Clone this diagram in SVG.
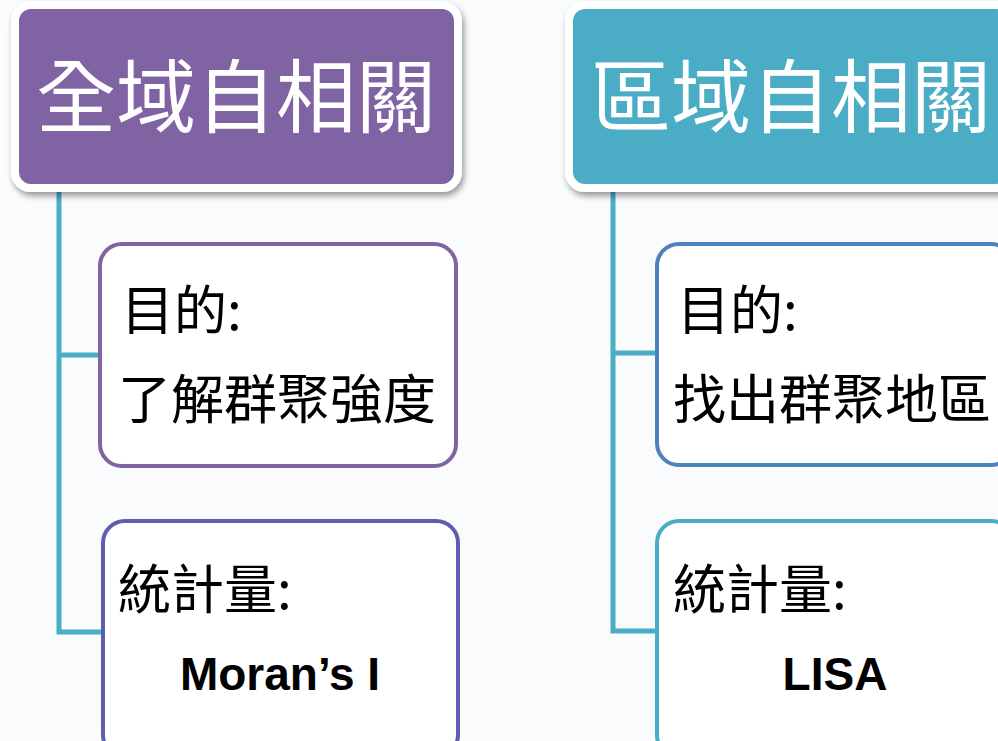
<svg xmlns="http://www.w3.org/2000/svg" width="998" height="741" viewBox="0 0 998 741">
<style>
.hdr{font-family:"Noto Sans CJK TC","Noto Sans CJK SC",sans-serif;font-size:80px;fill:#ffffff;}
.cjk{font-family:"Noto Sans CJK TC","Noto Sans CJK SC",sans-serif;font-size:53px;fill:#000000;}
.lat{font-family:"Liberation Sans",Arial,sans-serif;font-size:46px;font-weight:bold;fill:#000000;}
.conn{fill:none;stroke:#4bacc6;stroke-width:5;}
.box{fill:#ffffff;stroke-width:4;}
</style>
<defs>
<filter id="sh" x="-10%" y="-10%" width="120%" height="130%">
<feGaussianBlur in="SourceAlpha" stdDeviation="3"/>
<feOffset dx="2" dy="4" result="b"/>
<feComponentTransfer><feFuncA type="linear" slope="0.4"/></feComponentTransfer>
<feMerge><feMergeNode/><feMergeNode in="SourceGraphic"/></feMerge>
</filter>
</defs>
<rect width="998" height="741" fill="#f9fbfc"/>
<g id="connectors">
<path class="conn" d="M59 188 V632 H102 M59 355 H100"/>
<path class="conn" d="M613 188 V631 H658 M613 353 H658"/>
</g>
<g id="global">
<rect x="15" y="5" width="443" height="183" rx="16" fill="#8064a2" stroke="#ffffff" stroke-width="8" filter="url(#sh)"/>
<text class="hdr" x="236" y="126" text-anchor="middle">全域自相關</text>
</g>
<g id="global-purpose">
<rect class="box" x="100" y="244" width="356" height="222" rx="22" stroke="#8064a2"/>
<text class="cjk" x="121" y="330">目的:</text>
<text class="cjk" x="118" y="419">了解群聚強度</text>
</g>
<g id="global-stat">
<rect class="box" x="103" y="521" width="355" height="236" rx="22" stroke="#5f5eae"/>
<text class="cjk" x="118" y="609">統計量:</text>
<text class="lat" x="280" y="690" text-anchor="middle">Moran’s I</text>
</g>
<g id="local">
<rect x="569" y="5" width="443" height="183" rx="16" fill="#4bacc6" stroke="#ffffff" stroke-width="8" filter="url(#sh)"/>
<text class="hdr" x="791" y="126" text-anchor="middle">區域自相關</text>
</g>
<g id="local-purpose">
<rect class="box" x="657" y="244" width="356" height="221" rx="22" stroke="#4f81bd"/>
<text class="cjk" x="677" y="330">目的:</text>
<text class="cjk" x="673" y="419">找出群聚地區</text>
</g>
<g id="local-stat">
<rect class="box" x="657" y="521" width="356" height="236" rx="22" stroke="#4bacc6"/>
<text class="cjk" x="673" y="609">統計量:</text>
<text class="lat" x="835" y="690" text-anchor="middle">LISA</text>
</g>
</svg>
